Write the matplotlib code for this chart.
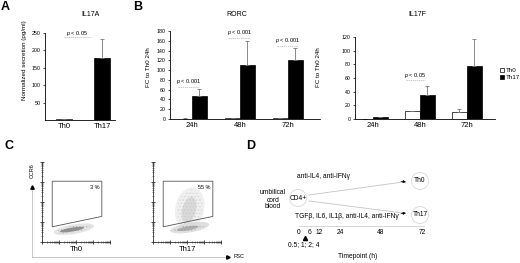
import numpy as np
import matplotlib
matplotlib.use("Agg")
import matplotlib.pyplot as plt
from matplotlib.patches import Polygon, Ellipse, Circle, Patch

plt.rcParams["font.family"] = ["Liberation Sans", "DejaVu Sans"]
plt.rcParams["mathtext.fontset"] = "custom"
plt.rcParams["mathtext.it"] = "Liberation Sans:italic"
plt.rcParams["hatch.linewidth"] = 0.5

W, H = 520, 263

# --- panel A: IL17A secretion
il17a_groups = ["Th0", "Th17"]
il17a_mean = [3, 178]
il17a_err = [1, 55]

# --- panel B: RORC / IL17F fold change
timepoints = ["24h", "48h", "72h"]
rorc_th0 = [1, 1.5, 1.5]
rorc_th0_err = [0.3, 0.6, 0.6]
rorc_th17 = [48, 110, 121]
rorc_th17_err = [13, 50, 25]
il17f_th0 = [0.4, 11, 10]
il17f_th0_err = [0.2, 1, 4]
il17f_th17 = [3, 35, 77]
il17f_th17_err = [0.6, 13, 40]

# --- panel C: flow gates (axis units 0-100)
gate_x = [15, 88, 88, 15]
gate_y = [76, 76, 32, 19]
flow_names = ["Th0", "Th17"]
gate_pct = ["3 %", "55 %"]
# blobs: x, y, width, height, angle, colour, alpha, hatch
blobs_th0 = [(47, 16, 60, 12, 8, "#dedede", 0.8, None),
             (46, 16, 50, 8, 8, "#a8a8a8", 0.8, "....."),
             (44, 15.5, 36, 5, 8, "#7c7c7c", 0.8, None)]
blobs_th17 = [(54, 42, 54, 42, 70, "#efefef", 0.9, None),
              (54, 42, 48, 36, 70, "#cfcfcf", 0.9, "....."),
              (53, 40, 34, 20, 70, "#c4c4c4", 0.5, None),
              (54, 18, 58, 12, 8, "#d8d8d8", 0.8, None),
              (53, 17.5, 46, 8, 8, "#a8a8a8", 0.8, "....."),
              (51, 17, 32, 5, 8, "#9a9a9a", 0.7, None)]

# --- panel D: timeline
tp_hours = [0, 6, 12, 24, 48, 72]
sample_label = "0.5; 1; 2; 4"


def box(x0, y0, x1, y1):
    return [x0 / W, 1 - y1 / H, (x1 - x0) / W, (y1 - y0) / H]


def hx(h):
    # hours -> pixel x on the timeline
    return 299 + h * (422 - 299) / 72


def style_bar_axes(ax):
    for s in ("top", "right"):
        ax.spines[s].set_visible(False)
    for s in ("left", "bottom"):
        ax.spines[s].set_linewidth(0.6)
    ax.tick_params(axis="y", length=1.5, width=0.5, labelsize=3.8, pad=1.5)
    ax.tick_params(axis="x", length=0, labelsize=5.5, pad=2)


def pmark(ax, xc, y_line, y_txt, text, half):
    ax.plot([xc - half, xc + half], [y_line, y_line], color="#b5b5b5",
            lw=0.5, ls=(0, (2, 1)), clip_on=False)
    ax.text(xc, y_txt, text, ha="center", va="center", fontsize=4, clip_on=False)


err_kw = dict(ecolor="#777777", elinewidth=0.6, capsize=1.2, capthick=0.6)

fig = plt.figure(figsize=(W / 100, H / 100), dpi=100)

# ---------------- A
axA = fig.add_axes(box(45, 33, 115, 120))
xa = np.arange(len(il17a_groups))
axA.bar(xa, il17a_mean, width=0.42, color=["white", "black"], edgecolor="black",
        linewidth=0.5, yerr=[np.zeros(2), il17a_err], error_kw=err_kw)
axA.set_xlim(-0.5, 1.34)
axA.set_ylim(0, 250)
axA.set_yticks([50, 100, 150, 200, 250])
axA.set_xticks(xa, il17a_groups)
style_bar_axes(axA)
pmark(axA, 0.34, 238, 248, r"$\it{p}$ < 0.05", 0.33)
fig.text(90 / W, 1 - 15 / H, "IL17A", ha="center", va="center", fontsize=5)
fig.text(25 / W, 1 - 60 / H, "Normalized secretion (pg/ml)", rotation=90,
         ha="center", va="center", fontsize=4.5)


def grouped(ax, th0, th0e, th17, th17e, width):
    x = np.arange(len(timepoints))
    ax.bar(x - width / 2, th0, width, color="white", edgecolor="black", linewidth=0.5,
           yerr=[np.zeros(len(x)), th0e], error_kw=err_kw)
    ax.bar(x + width / 2, th17, width, color="black", edgecolor="black", linewidth=0.5,
           yerr=[np.zeros(len(x)), th17e], error_kw=err_kw)
    ax.set_xticks(x, timepoints)
    style_bar_axes(ax)


# ---------------- B: RORC
axR = fig.add_axes(box(170, 31, 320, 119))
grouped(axR, rorc_th0, rorc_th0_err, rorc_th17, rorc_th17_err, 0.31)
axR.set_xlim(-0.46, 2.67)
axR.set_ylim(0, 180)
axR.set_yticks(np.arange(0, 181, 20))
pmark(axR, -0.08, 66, 76, r"$\it{p}$ < 0.001", 0.22)
pmark(axR, 0.98, 166, 176, r"$\it{p}$ < 0.001", 0.22)
pmark(axR, 2.0, 149, 160, r"$\it{p}$ < 0.001", 0.22)
fig.text(237 / W, 1 - 15 / H, "RORC", ha="center", va="center", fontsize=5)
fig.text(148 / W, 1 - 67 / H, "FC to Th0 24h", rotation=90, ha="center",
         va="center", fontsize=4.5)

# ---------------- B: IL17F
axF = fig.add_axes(box(355, 37, 495, 119))
grouped(axF, il17f_th0, il17f_th0_err, il17f_th17, il17f_th17_err, 0.32)
axF.set_xlim(-0.38, 2.6)
axF.set_ylim(0, 120)
axF.set_yticks(np.arange(0, 121, 20))
pmark(axF, 0.9, 57, 64, r"$\it{p}$ < 0.05", 0.2)
fig.text(417 / W, 1 - 15 / H, "IL17F", ha="center", va="center", fontsize=5)
fig.text(318 / W, 1 - 67 / H, "FC to Th0 24h", rotation=90, ha="center",
         va="center", fontsize=4.5)
fig.legend(handles=[Patch(facecolor="white", edgecolor="black", lw=0.5, label="Th0"),
                    Patch(facecolor="black", edgecolor="black", lw=0.5, label="Th17")],
           loc="center left", bbox_to_anchor=(497 / W, 1 - 74 / H), frameon=False,
           fontsize=4.5, handlelength=0.6, handleheight=0.6, handletextpad=0.3,
           labelspacing=0.2, borderpad=0)

# ---------------- C: flow plots
minor = [d * 25 + 25 * np.log10(k) for d in range(4) for k in range(2, 10)]
for left, name, pct, blobs in zip([42, 153], flow_names, gate_pct,
                                  [blobs_th0, blobs_th17]):
    ax = fig.add_axes(box(left, 162, left + 68, 242))
    ax.set_xlim(0, 100)
    ax.set_ylim(0, 100)
    for s in ("top", "right"):
        ax.spines[s].set_visible(False)
    for s in ("left", "bottom"):
        ax.spines[s].set_linewidth(0.6)
        ax.spines[s].set_color("#333333")
    ax.set_xticks([0, 25, 50, 75, 100])
    ax.set_yticks([0, 25, 50, 75, 100])
    ax.set_xticks(minor, minor=True)
    ax.set_yticks(minor, minor=True)
    ax.tick_params(which="both", direction="inout", length=1.6, width=0.4,
                   labelbottom=False, labelleft=False, color="#333333")
    ax.tick_params(which="major", length=2.4, width=0.6)
    for bx, by, bw, bh, ang, col, al, hat in blobs:
        if hat:
            ax.add_patch(Ellipse((bx, by), bw, bh, angle=ang, facecolor="none",
                                 edgecolor=col, lw=0, hatch=hat, alpha=al))
        else:
            ax.add_patch(Ellipse((bx, by), bw, bh, angle=ang, facecolor=col,
                                 edgecolor="none", alpha=al))
    ax.add_patch(Polygon(list(zip(gate_x, gate_y)), closed=True, fill=False,
                         edgecolor="#555555", lw=0.6))
    ax.text(85, 71, pct, ha="right", va="top", fontsize=4)
    ax.set_xlabel(name, fontsize=5.5, labelpad=2)

# ---------------- overlay for arrows and the diagram
ov = fig.add_axes([0, 0, 1, 1], zorder=5)
ov.set_xlim(0, W)
ov.set_ylim(H, 0)
ov.axis("off")
ov.patch.set_alpha(0)

# CCR6 / FSC axes arrows
ov.plot([32, 32], [257, 189], color="#c0c0c0", lw=0.6)
ov.plot([32], [187], marker="^", color="black", ms=2.5)
ov.text(32, 171, "CCR6", rotation=90, ha="center", va="center", fontsize=4)
ov.plot([32, 226], [257, 257], color="#c0c0c0", lw=0.6)
ov.plot([228], [257], marker=">", color="black", ms=2.5)
ov.text(233, 257, "FSC", ha="left", va="center", fontsize=4)

# panel D
ov.text(297, 177, "anti-IL4, anti-IFN\u03b3", ha="left", va="center", fontsize=4.8)
ov.text(273, 200, "umbilical\ncord\nblood", ha="center", va="center",
        fontsize=4.8, linespacing=1.0)
for (cx, cy), lab in zip([(298, 198), (420, 181), (420, 215)], ["CD4+", "Th0", "Th17"]):
    ov.add_patch(Circle((cx, cy), 8.5, fill=False, edgecolor="#d8d8d8", lw=0.6))
    ov.text(cx, cy, lab, ha="center", va="center", fontsize=4.8)
for y0, y1 in [(195, 182), (201, 213)]:
    ov.plot([309, 403], [y0, y1], color="#c4c4c4", lw=0.6)
    ov.annotate("", xy=(406, y1), xytext=(401, y1 + (y1 - y0) * 0.05),
                arrowprops=dict(arrowstyle="-|>", color="black", lw=0.5,
                                mutation_scale=4, shrinkA=0, shrinkB=0))
ov.text(295, 217, "TGF\u03b2, IL6, IL1\u03b2, anti-IL4, anti-IFN\u03b3", ha="left",
        va="center", fontsize=4.8)
ov.plot([hx(0), hx(72) + 2], [226, 226], color="#d0d0d0", lw=0.6)
for h in tp_hours:
    ov.text(hx(h), 232.5, str(h), ha="center", va="center", fontsize=4.8)
ov.plot([305], [237.5], marker="^", color="black", ms=3)
ov.text(304, 245, sample_label, ha="center", va="center", fontsize=4.8)
ov.text(358, 256, "Timepoint (h)", ha="center", va="center", fontsize=4.8)

# panel letters
for lab, x, y in [("A", 5, 7), ("B", 138, 7), ("C", 9, 146), ("D", 251, 146)]:
    fig.text(x / W, 1 - y / H, lab, ha="center", va="center", fontsize=9,
             fontweight="bold")

fig.savefig("out.png", dpi=100)
